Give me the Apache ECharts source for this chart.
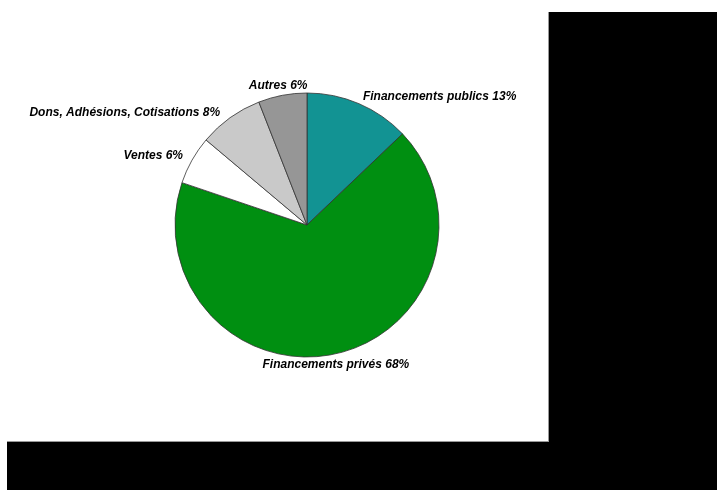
<!DOCTYPE html>
<html><head><meta charset="utf-8">
<script src="https://cdn.jsdelivr.net/npm/echarts@6/dist/echarts.min.js"></script>
<style>html,body{margin:0;padding:0;background:#fff}#c{width:717px;height:490px}</style>
</head><body><div id="c"></div>
<script>
var categories = ['Financements publics', 'Financements privés', 'Ventes', 'Dons, Adhésions, Cotisations', 'Autres'];
var values = [13, 68, 6, 8, 6];
var colors = ['#129393', '#008f11', '#ffffff', '#c9c9c9', '#969696'];
var labelShift = [[-5, -7], [-82, 11], [0, -5], [-1, -5], [34, -10]];

var chart = echarts.init(document.getElementById('c'), null, {renderer: 'canvas'});
chart.setOption({
  backgroundColor: '#ffffff',
  animation: false,
  graphic: [
    {type: 'rect', shape: {x: 549, y: 12, width: 168, height: 478}, style: {fill: '#000'}, z: -10},
    {type: 'rect', shape: {x: 7, y: 442, width: 710, height: 48}, style: {fill: '#000'}, z: -10},
    {type: 'line', shape: {x1: 7, y1: 441.5, x2: 549, y2: 441.5}, style: {stroke: '#999', lineWidth: 1}, z: -9},
    {type: 'line', shape: {x1: 548.5, y1: 12, x2: 548.5, y2: 442}, style: {stroke: '#999', lineWidth: 1}, z: -9}
  ],
  series: [{
    type: 'pie',
    center: [307, 225],
    radius: [0, 132],
    startAngle: 90,
    clockwise: true,
    data: categories.map(function (n, i) {
      return {name: n, value: values[i], itemStyle: {color: colors[i]}};
    }),
    itemStyle: {borderColor: '#333', borderWidth: 0.8},
    label: {
      show: true,
      position: 'outside',
      formatter: function (p) { return p.name + ' ' + p.value + '%'; },
      fontFamily: 'Liberation Sans, Arial, sans-serif',
      fontSize: 12,
      fontWeight: 'bold',
      fontStyle: 'italic',
      color: '#000'
    },
    labelLine: {show: false, length: 0, length2: 4},
    labelLayout: function (p) {
      var s = labelShift[p.dataIndex];
      return {dx: s[0], dy: s[1]};
    },
    emphasis: {disabled: true}
  }]
});
</script></body></html>
